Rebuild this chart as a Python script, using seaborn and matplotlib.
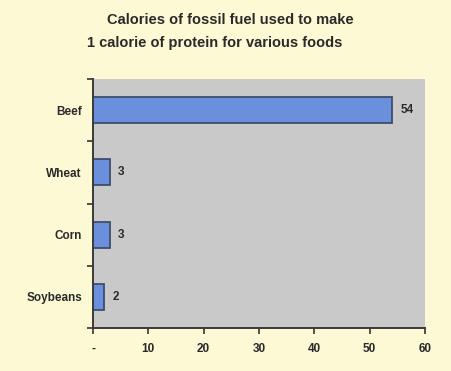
import matplotlib
matplotlib.use("Agg")
import matplotlib.pyplot as plt
import seaborn as sns
import pandas as pd

# Fossil-fuel calories needed per calorie of protein
foods = ["Beef", "Wheat", "Corn", "Soybeans"]
fuel_calories = [54, 3, 3, 2]
x_ticks = [0, 10, 20, 30, 40, 50, 60]
x_tick_labels = ["-", "10", "20", "30", "40", "50", "60"]
title_lines = ["Calories of fossil fuel used to make",
               "1 calorie of protein for various foods"]

df = pd.DataFrame({"food": foods, "calories": fuel_calories})

sns.set_style("white")
plt.rcParams["font.family"] = ["Liberation Sans", "DejaVu Sans"]
plt.rcParams["font.weight"] = "bold"

page_bg = "#fdf9d4"
panel_bg = "#c9c9c9"
bar_fill = "#6a8fdc"
bar_edge = "#3f4d6b"
ink = "#2a2a2a"

fig = plt.figure(figsize=(4.52, 3.71), dpi=100, facecolor=page_bg)
ax = fig.add_axes([0.2058, 0.1159, 0.7345, 0.671])
ax.set_facecolor(panel_bg)

sns.barplot(data=df, x="calories", y="food", order=foods, orient="h",
            color=bar_fill, saturation=1, width=0.42,
            edgecolor=bar_edge, linewidth=1.3, ax=ax)

ax.set_xlim(0, 60)
ax.set_ylim(3.5, -0.5)
ax.set_xlabel("")
ax.set_ylabel("")

ax.set_xticks(x_ticks)
ax.set_xticklabels(x_tick_labels)
ax.set_yticks(range(len(foods)))
ax.set_yticklabels(foods)
ax.set_yticks([i - 0.5 for i in range(len(foods) + 1)], minor=True)

ax.tick_params(axis="x", bottom=True, direction="out", length=4, width=1.2,
               color="#333333", labelsize=8.5, labelcolor=ink, pad=7)
ax.tick_params(axis="y", which="major", left=False, length=0, labelsize=8.5,
               labelcolor=ink, pad=8)
ax.tick_params(axis="y", which="minor", left=True, direction="out", length=4,
               width=1.2, color="#333333")

for side in ("top", "right"):
    ax.spines[side].set_visible(False)
for side in ("left", "bottom"):
    ax.spines[side].set_color("#3a3a3a")
    ax.spines[side].set_linewidth(1.4)

for i, v in enumerate(fuel_calories):
    ax.annotate(f"{v}", xy=(v, i), xytext=(6, 0), textcoords="offset points",
                ha="left", va="center", fontsize=8.5, fontweight="bold", color=ink)

fig.text(230 / 452, 1 - 20 / 371, title_lines[0], ha="center", va="center",
         fontsize=10.5, fontweight="bold", color=ink)
fig.text(215 / 452, 1 - 43 / 371, title_lines[1], ha="center", va="center",
         fontsize=10.5, fontweight="bold", color=ink)

fig.savefig("out.png", dpi=100, facecolor=page_bg)
